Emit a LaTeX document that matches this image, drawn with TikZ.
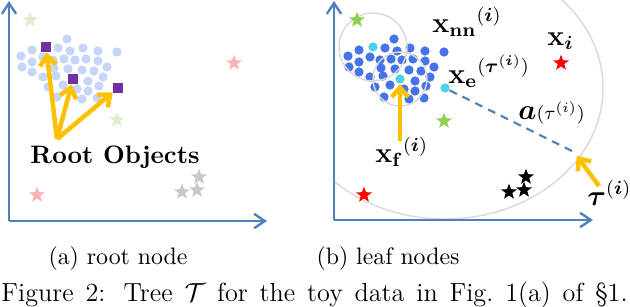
\documentclass[tikz,border=0pt]{standalone}
\usepackage{amsmath}
\usetikzlibrary{arrows.meta,shapes.geometric}
\definecolor{axisblue}{HTML}{4F81BD}
\definecolor{paledot}{HTML}{C6D6F8}
\definecolor{leafdot}{HTML}{4674E8}
\definecolor{leafcyan}{HTML}{4DD2EC}
\definecolor{rootpurple}{HTML}{7030A0}
\definecolor{amber}{HTML}{FFC000}
\definecolor{palegreen}{HTML}{DDEFD0}
\definecolor{palered}{HTML}{FBB4B4}
\definecolor{palegray}{HTML}{C8C8C8}
\definecolor{leafgreen}{HTML}{92D050}
\definecolor{leafred}{HTML}{FF0000}
\definecolor{ringgray}{HTML}{D9D9D9}
\tikzset{
  axis/.style={
    draw=axisblue, line width=1pt,
    -{Straight Barb[length=4.5pt,width=6pt]}
  },
  dot/.style={
    circle, inner sep=0pt, minimum size=3.9pt, fill=#1
  },
  rootsq/.style={
    rectangle, inner sep=0pt, minimum size=4.2pt, fill=rootpurple
  },
  starmark/.style={
    star, star points=5, star point ratio=2.4,
    inner sep=0pt, minimum size=7pt, fill=#1
  },
  yarr/.style={
    draw=amber, line width=1.9pt,
    -{Straight Barb[length=4pt,width=7pt]}
  },
  ring/.style={draw=ringgray, line width=0.6pt},
  radius line/.style={
    draw=axisblue, line width=0.9pt, dash pattern=on 3.4pt off 2.6pt
  },
  mlabel/.style={anchor=base west, inner sep=0pt, font=\large},
}
% cluster of data points (left panel pixel positions)
\newcommand\clusterpts{67/39,32/50,58/48,70/51,83/48,98/51,117/52,
  21/56,32/62,43/57,53/60,64/59,75/60,86/59,98/61,
  22/67,32/72,54/68,68/69,82/70,94/71,107/67,
  43/77,56/76,88/81,103/77,
  48/87,63/85,77/89,88/91,99/86,
  57/97,82/99,97/98}

\begin{document}
\begin{tikzpicture}[x=0.42pt, y=-0.42pt]

  \useasboundingbox (0,0) rectangle (630,306);

  % (a) root node
  \foreach \x/\y [count=\k] in \clusterpts
    \node[dot=paledot] (ra\k) at (\x,\y) {};

  \node[rootsq] (root1) at (46,47) {};
  \node[rootsq] (root2) at (73,79) {};
  \node[rootsq] (root3) at (118,88) {};

  \foreach \x/\y/\c [count=\k] in {30/20/palegreen, 234/63/palered,
      117/120/palegreen, 37/195/palered, 182/192/palegray,
      197/190/palegray, 199/177/palegray}
    \node[starmark=\c] (sa\k) at (\x,\y) {};

  \coordinate (rootsrc) at (57,139);
  \draw[yarr] (rootsrc) -- (root1);
  \draw[yarr] (rootsrc) -- (root2);
  \draw[yarr] (rootsrc) -- (root3);

  \node[anchor=base west, inner sep=0pt,
        font=\fontsize{10.6}{12}\selectfont\bfseries]
    (rootlbl) at (30,163) {Root Objects};

  \coordinate (oa) at (9,221);
  \draw[axis] (oa) -- (9,1);
  \draw[axis] (oa) -- (267,221);

  % (b) leaf nodes
  \foreach \x/\y [count=\k] in \clusterpts
    \node[dot=leafdot] (lb\k) at (\x+327,\y) {};

  \node[dot=leafcyan] (nn) at (373,47) {};
  \node[dot=leafcyan] (ff) at (400,79) {};
  \node[dot=leafcyan] (ee) at (445,88) {};

  \draw[ring] (nn) circle[radius=34];
  \draw[ring] (ff) circle[radius=27];
  \begin{scope}
    \clip (335,0) rectangle (630,219.5);
    \draw[ring] (ee) ellipse[x radius=158, y radius=131];
  \end{scope}

  \foreach \x/\y/\c [count=\k] in {357/20/leafgreen, 561/63/leafred,
      444/121/leafgreen, 364/195/leafred, 509/192/black,
      524/190/black, 526/177/black}
    \node[starmark=\c] (sb\k) at (\x,\y) {};

  \coordinate (tau) at (574,152);
  \coordinate (tausrc) at (599,186);
  \coordinate (fsrc) at (400,141);
  \draw[radius line] (ee) -- (tau);
  \draw[yarr] (fsrc) -- (ff);
  \draw[yarr, shorten >=2pt] (tausrc) -- (tau);

  \node[mlabel] (lnn) at (432,32)
    {$\mathbf{x}_{\mathbf{nn}}{}^{(\boldsymbol{i})}$};
  \node[mlabel] (lxi) at (547,45) {$\mathbf{x}_{\boldsymbol{i}}$};
  \node[mlabel] (lee) at (448,83)
    {$\mathbf{x}_{\mathbf{e}}{}^{(\boldsymbol{\tau}^{(\boldsymbol{i})})}$};
  \node[mlabel] (laa) at (518,119)
    {$\boldsymbol{a}{\scriptstyle(\tau^{(i)})}$};
  \node[mlabel] (lff) at (375,162)
    {$\mathbf{x}_{\mathbf{f}}{}^{(\boldsymbol{i})}$};
  \node[mlabel] (ltau) at (587,205)
    {$\boldsymbol{\tau}^{(\boldsymbol{i})}$};

  \coordinate (ob) at (334,220);
  \draw[axis] (ob) -- (334,1);
  \draw[axis] (ob) -- (593,220);

  % captions
  \node[anchor=base] (capa) at (118,264) {(a) root node};
  \node[anchor=base] (capb) at (388,264) {(b) leaf nodes};
  \node[anchor=base west, inner sep=0pt, font=\fontsize{11}{13}\selectfont]
    (capfig) at (1,301)
    {\makebox[263pt][s]{Figure 2: Tree $\mathcal{T}$ for the toy data in Fig.~1(a) of \S1.}};

\end{tikzpicture}
\end{document}
